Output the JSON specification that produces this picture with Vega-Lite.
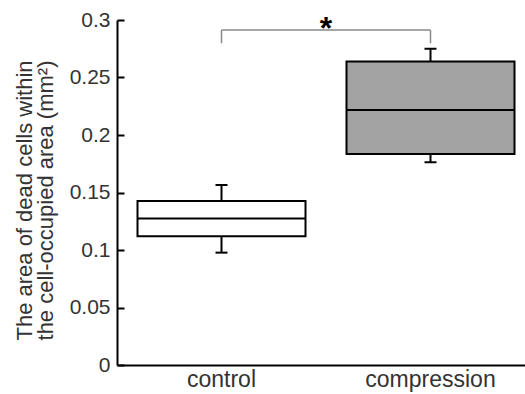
{
  "$schema": "https://vega.github.io/schema/vega-lite/v6.json",
  "autosize": {"type": "none"},
  "width": 408,
  "height": 345,
  "padding": {"left": 117, "top": 20, "right": 0, "bottom": 29},
  "background": "white",
  "config": {"view": {"stroke": null}, "font": "Liberation Sans"},
  "datasets": {
    "boxes": [
      {"group": "control", "min": 0.0977, "q1": 0.112, "median": 0.1275, "q3": 0.1426, "max": 0.1565},
      {"group": "compression", "min": 0.1763, "q1": 0.1835, "median": 0.2217, "q3": 0.264, "max": 0.275}
    ],
    "bracketLegs": [
      {"group": "control", "lo": 0.2797, "hi": 0.2913},
      {"group": "compression", "lo": 0.2797, "hi": 0.2913}
    ],
    "bracketBar": [
      {"from": "control", "to": "compression", "y": 0.2913, "label": "*", "ystar": 0.292}
    ]
  },
  "layer": [
    {
      "data": {"name": "boxes"},
      "mark": {"type": "rule", "color": "black", "strokeWidth": 2},
      "encoding": {
        "x": {
          "field": "group", "type": "nominal", "sort": ["control", "compression"],
          "scale": {"domain": ["control", "compression"], "range": [0, 418], "paddingInner": 0, "paddingOuter": 0},
          "axis": {
            "title": null, "domainColor": "black", "domainWidth": 2, "ticks": false,
            "labelAngle": 0, "labelFontSize": 23, "labelColor": "#333", "labelPadding": 3
          }
        },
        "y": {
          "field": "min", "type": "quantitative",
          "scale": {"domain": [0, 0.3], "nice": false, "zero": true},
          "axis": {
            "title": ["The area of dead cells within", "the cell-occupied area (mm²)"],
            "titleFontSize": 22, "titleFontWeight": "normal", "titleColor": "#333", "titlePadding": 12,
            "titleLineHeight": 21, "titleY": 180,
            "values": [0, 0.05, 0.1, 0.15, 0.2, 0.25, 0.3], "format": "~g",
            "domainColor": "black", "domainWidth": 2,
            "tickColor": "black", "tickWidth": 2, "tickSize": -7,
            "labelFontSize": 21, "labelColor": "#333", "labelPadding": 14, "grid": false
          }
        },
        "y2": {"field": "max"}
      }
    },
    {
      "data": {"name": "boxes"},
      "mark": {"type": "bar", "size": 168, "stroke": "black", "strokeWidth": 2},
      "encoding": {
        "x": {"field": "group", "type": "nominal"},
        "y": {"field": "q1", "type": "quantitative"},
        "y2": {"field": "q3"},
        "fill": {
          "field": "group", "type": "nominal",
          "scale": {"domain": ["control", "compression"], "range": ["#ffffff", "#a3a3a3"]},
          "legend": null
        }
      }
    },
    {
      "data": {"name": "boxes"},
      "mark": {"type": "tick", "size": 168, "thickness": 2, "color": "black", "opacity": 1},
      "encoding": {
        "x": {"field": "group", "type": "nominal"},
        "y": {"field": "median", "type": "quantitative"}
      }
    },
    {
      "data": {"name": "boxes"},
      "mark": {"type": "tick", "size": 12, "thickness": 2, "color": "black", "opacity": 1},
      "encoding": {
        "x": {"field": "group", "type": "nominal"},
        "y": {"field": "min", "type": "quantitative"}
      }
    },
    {
      "data": {"name": "boxes"},
      "mark": {"type": "tick", "size": 12, "thickness": 2, "color": "black", "opacity": 1},
      "encoding": {
        "x": {"field": "group", "type": "nominal"},
        "y": {"field": "max", "type": "quantitative"}
      }
    },
    {
      "data": {"name": "bracketLegs"},
      "mark": {"type": "rule", "color": "#888", "strokeWidth": 1.5},
      "encoding": {
        "x": {"field": "group", "type": "nominal"},
        "y": {"field": "lo", "type": "quantitative"},
        "y2": {"field": "hi"}
      }
    },
    {
      "data": {"name": "bracketBar"},
      "mark": {"type": "rule", "color": "#888", "strokeWidth": 1.5},
      "encoding": {
        "x": {"field": "from", "type": "nominal"},
        "x2": {"field": "to"},
        "y": {"field": "y", "type": "quantitative"}
      }
    },
    {
      "data": {"name": "bracketBar"},
      "mark": {"type": "text", "fontSize": 32, "fontWeight": "bold", "color": "black", "baseline": "middle", "align": "center"},
      "encoding": {
        "x": {"field": "from", "type": "nominal", "bandPosition": 1},
        "y": {"field": "ystar", "type": "quantitative"},
        "text": {"field": "label"}
      }
    }
  ]
}
